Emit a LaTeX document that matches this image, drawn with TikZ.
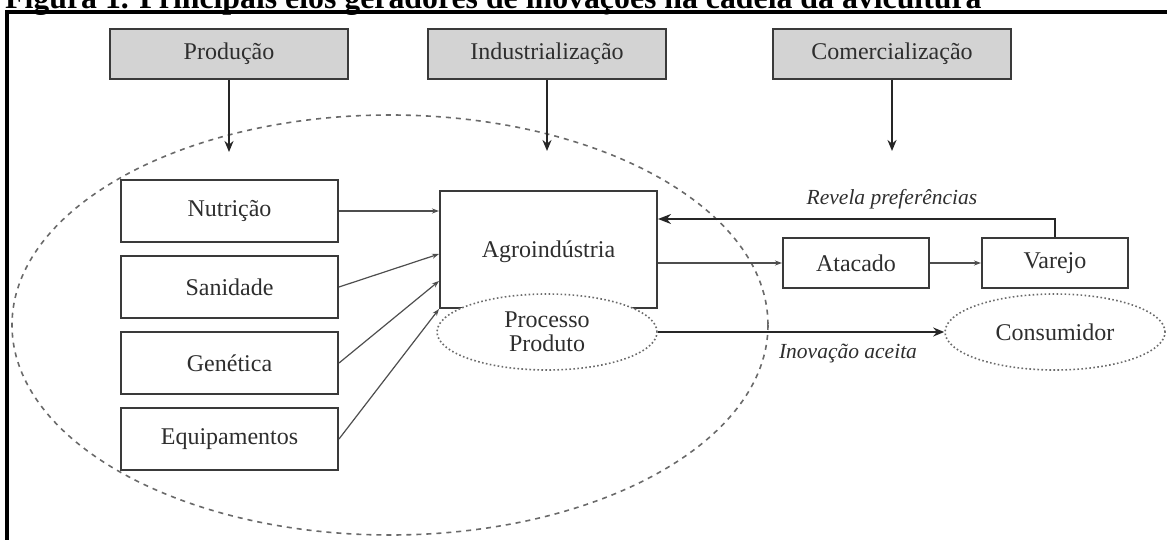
\documentclass[tikz,border=0pt]{standalone}
\usepackage{fontspec}
\setmainfont{Liberation Serif}
\usetikzlibrary{arrows.meta,shapes.geometric,calc}
\definecolor{txt}{HTML}{2E2E2E}
\definecolor{edge}{HTML}{3A3A3A}
\definecolor{boxgray}{HTML}{D3D3D3}
\definecolor{dash}{HTML}{6A6A6A}
\begin{document}
\begin{tikzpicture}[x=1pt,y=-1pt,
  lbl/.style={font=\fontsize{24}{26}\selectfont, text=txt},
  stage/.style={draw=edge, line width=2pt, fill=boxgray, minimum width=238pt, minimum height=50pt, inner sep=0pt, lbl},
  plain/.style={draw=edge, line width=2pt, fill=white, inner sep=0pt, lbl},
  oval/.style={ellipse, draw=dash, line width=1.6pt, dash pattern=on 1.6pt off 2.4pt, minimum width=220pt, minimum height=76pt, inner sep=0pt, lbl, align=center},
  thick arrow/.style={draw=black!85, line width=2.6pt, -{Stealth[length=11pt,width=9pt]}},
  thin arrow/.style={draw=edge!90, line width=1.2pt, -{Stealth[length=7pt,width=5pt]}},
  note/.style={font=\fontsize{21.5}{23}\selectfont\itshape, text=txt}]
\clip (0,0) rectangle (1167,540);
% title and frame
\node[anchor=base west, inner sep=0pt, font=\bfseries\fontsize{31.8}{33}\selectfont] (title) at (5,9) {Figura 1. Principais elos geradores de inovações na cadeia da avicultura};
\draw[line width=4pt] (7,560) -- (7,12) -- (1180,12);
% big dashed ellipse
\draw[draw=dash, line width=1.6pt, dash pattern=on 5pt off 5pt] (390,325) ellipse [x radius=378, y radius=210];
% stage boxes
\node[stage] (prod) at (229,54) {Produção};
\node[stage] (ind) at (547,54) {Industrialização};
\node[stage] (com) at (892,54) {Comercialização};
\coordinate (prodend) at (229,152);
\coordinate (indend) at (547,151);
\coordinate (comend) at (892,151);
\draw[thick arrow] (prod.south) -- (prodend);
\draw[thick arrow] (ind.south) -- (indend);
\draw[thick arrow] (com.south) -- (comend);
% left boxes
\node[plain, minimum width=217pt, minimum height=62pt] (nut) at (229.5,211) {Nutrição};
\node[plain, minimum width=217pt, minimum height=62pt] (san) at (229.5,287) {Sanidade};
\node[plain, minimum width=217pt, minimum height=62pt] (gen) at (229.5,363) {Genética};
\node[plain, minimum width=217pt, minimum height=62pt] (equ) at (229.5,439) {Equipamentos};
% agroindustria
\node[plain, minimum width=217pt, minimum height=117pt] (agro) at (548.5,249.5) {};
\node[lbl] (agrotxt) at (548.5,252) {Agroindústria};
\node[oval, fill=white] (proc) at (547,332) {Processo\\[-2pt]Produto};
% connectors from left boxes
\draw[thin arrow] (nut.east) -- ([yshift=-21pt]agro.north west);
\draw[thin arrow] (san.east) -- ([yshift=-64pt]agro.north west);
\draw[thin arrow] (gen.east) -- ([yshift=-91pt]agro.north west);
\draw[thin arrow] (equ.east) -- (agro.south west);
% commercial chain
\node[plain, minimum width=146pt, minimum height=50pt] (ata) at (856,263) {Atacado};
\node[plain, minimum width=146pt, minimum height=50pt] (var) at (1055,263) {Varejo};
\node[oval] (cons) at (1055,332) {Consumidor};
\draw[thin arrow, line width=1.5pt] (agro.east |- ata.west) -- (ata.west);
\draw[thin arrow, line width=1.5pt] (ata.east) -- (var.west);
\draw[thick arrow, -{Stealth[length=13pt,width=10pt]}] (var.north) |- ([yshift=-29pt]agro.north east);
\node[note] (revela) at (892,199) {Revela preferências};
\draw[thick arrow] (proc.east) -- (cons.west);
\node[note] (inov) at (848,353) {Inovação aceita};
\end{tikzpicture}
\end{document}
